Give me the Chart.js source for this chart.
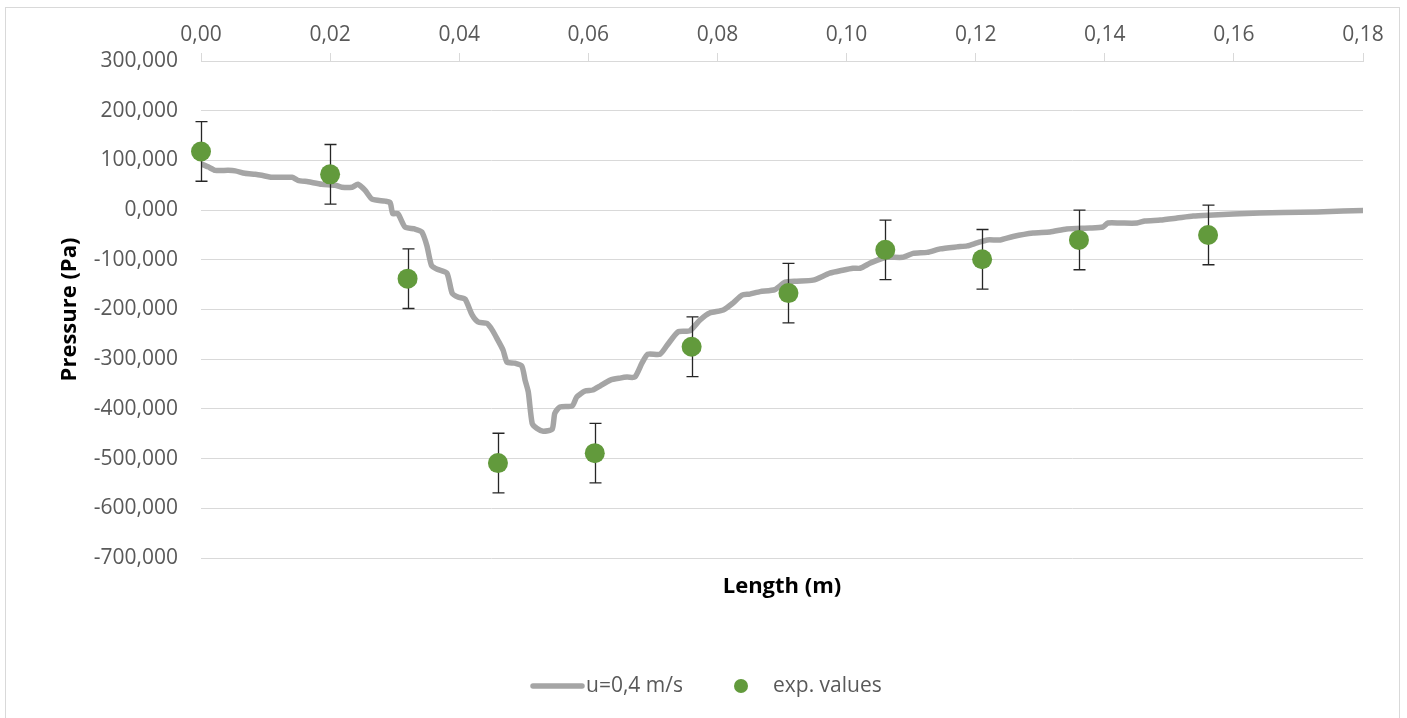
<!DOCTYPE html>
<html>
<head>
<meta charset="utf-8">
<title>Pressure along length</title>
<script src="https://cdn.jsdelivr.net/npm/chart.js@4.4.1/dist/chart.umd.min.js"></script>
<style>
  html, body { margin: 0; padding: 0; background: #fff; }
  #wrap { position: relative; width: 1407px; height: 718px; overflow: hidden; }
  #frame { position: absolute; left: 5px; top: 7px; width: 1395px; height: 730px; border: 1px solid #d9d9d9; box-sizing: border-box; }
  #chart { position: absolute; left: 0; top: 0; }
</style>
</head>
<body>
<div id="wrap">
  <div id="frame"></div>
  <canvas id="chart" width="1407" height="718"></canvas>
</div>
<script>
// simulated pressure profile, u = 0,4 m/s
const simLength = [
  0.0000, 0.0011, 0.0022, 0.0042, 0.0053, 0.0068, 0.0084, 0.0094, 0.0110, 0.0141,
  0.0150, 0.0166, 0.0187, 0.0208, 0.0218, 0.0234, 0.0243, 0.0254, 0.0265, 0.0285,
  0.0293, 0.0297, 0.0305, 0.0316, 0.0331, 0.0342, 0.0350, 0.0357, 0.0366, 0.0381,
  0.0389, 0.0398, 0.0409, 0.0420, 0.0429, 0.0443, 0.0451, 0.0460, 0.0468, 0.0474,
  0.0486, 0.0497, 0.0502, 0.0507, 0.0513, 0.0520, 0.0530, 0.0544, 0.0548, 0.0556,
  0.0575, 0.0582, 0.0595, 0.0607, 0.0618, 0.0634, 0.0649, 0.0660, 0.0672, 0.0683,
  0.0692, 0.0711, 0.0722, 0.0739, 0.0757, 0.0773, 0.0788, 0.0809, 0.0824, 0.0838,
  0.0850, 0.0866, 0.0889, 0.0905, 0.0923, 0.0948, 0.0974, 0.0994, 0.1010, 0.1021,
  0.1036, 0.1047, 0.1063, 0.1087, 0.1103, 0.1125, 0.1145, 0.1171, 0.1187, 0.1202,
  0.1218, 0.1238, 0.1258, 0.1289, 0.1315, 0.1341, 0.1377, 0.1397, 0.1405, 0.1424,
  0.1450, 0.1462, 0.1486, 0.1512, 0.1537, 0.1568, 0.1599, 0.1640, 0.1676, 0.1729,
  0.1769, 0.1800
];
const simPressure = [
  93, 87, 80, 80, 79, 74, 72, 70, 66, 66,
  60, 57, 52, 50, 46, 46, 52, 40, 22, 18,
  15, -7, -7, -34, -38, -44, -72, -111, -119, -127,
  -167, -175, -179, -211, -225, -228, -241, -262, -282, -306,
  -308, -314, -342, -366, -429, -439, -445, -441, -409, -396,
  -394, -376, -364, -362, -354, -342, -338, -336, -336, -308,
  -290, -290, -272, -245, -243, -221, -207, -201, -187, -171,
  -169, -164, -160, -145, -143, -141, -127, -121, -117, -117,
  -107, -101, -95, -95, -87, -85, -78, -74, -72, -66,
  -60, -60, -53, -46, -44, -38, -36, -34, -26, -26,
  -26, -22, -20, -16, -12, -10, -8, -6, -5, -4,
  -2, -1
];

// measured values with their error bars
const expLength = [0.000, 0.020, 0.032, 0.046, 0.061, 0.076, 0.091, 0.106, 0.121, 0.136, 0.156];
const expPressure = [118, 72, -138, -509, -489, -275, -167, -80, -99, -60, -50];
const expError = [60, 60, 60, 60, 60, 60, 60, 60, 60, 60, 60];

const lengthTicks = [0, 0.02, 0.04, 0.06, 0.08, 0.10, 0.12, 0.14, 0.16, 0.18];
const pressureTicks = [300, 200, 100, 0, -100, -200, -300, -400, -500, -600, -700];

const FONT = "'Open Sans', 'Liberation Sans', sans-serif";
const GREY_TEXT = '#595959';
const GRID = '#d9d9d9';

const fmtComma = (v, d) => Number(v).toFixed(d).replace('.', ',');

// vertical error bars, drawn just before the markers so the dots sit on top
const errorBarPlugin = {
  id: 'errorBars',
  beforeDatasetDraw(chart, args) {
    const ds = chart.data.datasets[args.index];
    if (!ds.errors) return;
    const ctx = chart.ctx;
    const xs = chart.scales.x, ys = chart.scales.y;
    ctx.save();
    ctx.strokeStyle = '#262626';
    ctx.lineWidth = 1.3;
    ds.data.forEach((p, i) => {
      const px = Math.round(xs.getPixelForValue(p.x)) + 0.5;
      const top = ys.getPixelForValue(p.y + ds.errors[i]);
      const bot = ys.getPixelForValue(p.y - ds.errors[i]);
      ctx.beginPath();
      ctx.moveTo(px, top); ctx.lineTo(px, bot);
      ctx.moveTo(px - 6, top); ctx.lineTo(px + 6, top);
      ctx.moveTo(px - 6, bot); ctx.lineTo(px + 6, bot);
      ctx.stroke();
    });
    ctx.restore();
  }
};

// legend row under the axis title
const legendPlugin = {
  id: 'bottomLegend',
  afterDraw(chart) {
    const ctx = chart.ctx;
    const [line, dots] = chart.data.datasets;
    const y = 686;
    ctx.save();
    ctx.font = '21px ' + FONT;
    ctx.fillStyle = GREY_TEXT;
    ctx.textBaseline = 'middle';
    ctx.textAlign = 'left';

    ctx.strokeStyle = line.borderColor;
    ctx.lineWidth = line.borderWidth;
    ctx.lineCap = 'round';
    ctx.beginPath();
    ctx.moveTo(533, y); ctx.lineTo(582, y);
    ctx.stroke();
    ctx.fillText(line.label, 586, y);

    ctx.fillStyle = dots.backgroundColor;
    ctx.beginPath();
    ctx.arc(741, y, 7, 0, Math.PI * 2);
    ctx.fill();
    ctx.fillStyle = GREY_TEXT;
    ctx.fillText(dots.label, 773, y);
    ctx.restore();
  }
};

new Chart(document.getElementById('chart'), {
  data: {
    datasets: [
      {
        type: 'line',
        label: 'u=0,4 m/s',
        data: simLength.map((x, i) => ({ x, y: simPressure[i] })),
        borderColor: '#a5a5a5',
        borderWidth: 5.5,
        borderJoinStyle: 'round',
        borderCapStyle: 'round',
        pointRadius: 0,
        tension: 0.2,
        order: 2
      },
      {
        type: 'scatter',
        label: 'exp. values',
        data: expLength.map((x, i) => ({ x, y: expPressure[i] })),
        errors: expError,
        backgroundColor: '#629a3c',
        borderColor: '#629a3c',
        borderWidth: 0,
        pointRadius: 10,
        pointHoverRadius: 10,
        clip: false,
        order: 1
      }
    ]
  },
  options: {
    responsive: false,
    animation: false,
    devicePixelRatio: 1,
    layout: { padding: { left: 0, top: 0, right: 44, bottom: 0 } },
    plugins: {
      legend: { display: false },
      tooltip: { enabled: false }
    },
    scales: {
      x: {
        type: 'linear',
        position: 'top',
        min: 0,
        max: 0.18,
        afterBuildTicks: s => { s.ticks = lengthTicks.map(value => ({ value })); },
        afterFit: s => { s.height = 61; s.paddingLeft = 0; s.paddingRight = 0; },
        grid: { drawOnChartArea: false, drawTicks: true, tickLength: 8, color: GRID, lineWidth: 1 },
        border: { display: true, color: GRID, width: 1 },
        ticks: {
          color: GREY_TEXT,
          font: { family: FONT, size: 21 },
          padding: 5,
          maxRotation: 0,
          autoSkip: false,
          callback: v => fmtComma(v, 2)
        }
      },
      y: {
        type: 'linear',
        min: -700,
        max: 300,
        afterBuildTicks: s => { s.ticks = pressureTicks.map(value => ({ value })); },
        afterFit: s => { s.width = 201; s.paddingTop = 0; s.paddingBottom = 0; },
        grid: { color: GRID, lineWidth: 1, drawTicks: false },
        border: { display: false },
        ticks: {
          color: GREY_TEXT,
          font: { family: FONT, size: 21 },
          padding: 23,
          callback: v => fmtComma(v, 3)
        },
        title: {
          display: true,
          text: 'Pressure (Pa)',
          color: '#000',
          font: { family: FONT, size: 22, weight: 'bold' },
          padding: { top: 57, bottom: 0 }
        }
      },
      xTitle: {
        type: 'linear',
        position: 'bottom',
        min: 0,
        max: 0.18,
        afterFit: s => { s.height = 160; s.paddingLeft = 0; s.paddingRight = 0; },
        ticks: { display: false },
        grid: { display: false },
        border: { display: false },
        title: {
          display: true,
          text: 'Length (m)',
          color: '#000',
          font: { family: FONT, size: 22, weight: 'bold' },
          padding: { top: 0, bottom: 118 }
        }
      }
    }
  },
  plugins: [errorBarPlugin, legendPlugin]
});
</script>
</body>
</html>
